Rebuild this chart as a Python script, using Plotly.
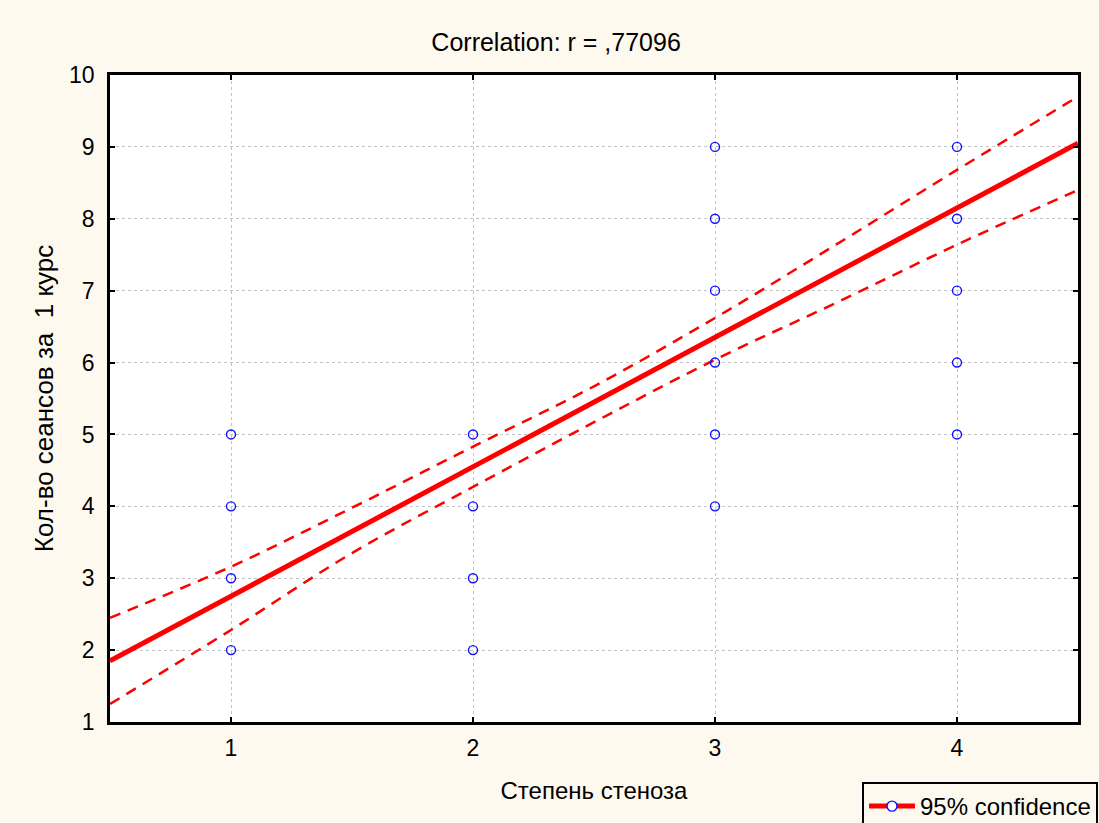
import plotly.graph_objects as go

# Observations: stenosis grade vs number of sessions
stenosis = [1, 1, 1, 1, 2, 2, 2, 2, 3, 3, 3, 3, 3, 3, 4, 4, 4, 4, 4]
sessions = [2, 3, 4, 5, 2, 3, 4, 5, 4, 5, 6, 7, 8, 9, 5, 6, 7, 8, 9]

# Fitted regression line across the x range
fit_x = [0.5, 4.5]
fit_y = [1.85, 9.05]

# 95% confidence band
band_x = [0.5, 1.0, 1.5, 2.0, 2.5, 3.0, 3.5, 4.0, 4.5]
band_upper = [2.45, 3.16, 3.98, 4.83, 5.67, 6.62, 7.64, 8.68, 9.70]
band_lower = [1.25, 2.28, 3.35, 4.27, 5.17, 6.04, 6.83, 7.64, 8.40]

x_ticks = [1, 2, 3, 4]
y_ticks = [1, 2, 3, 4, 5, 6, 7, 8, 9, 10]

RED = "#FF0000"
BLUE = "#1010FF"
FONT = "Liberation Sans, Arial, sans-serif"

fig = go.Figure()

for band in (band_upper, band_lower):
    fig.add_trace(go.Scatter(
        x=band_x, y=band, mode="lines", showlegend=False, hoverinfo="skip",
        line=dict(color=RED, width=2.5, dash="11px,8px", shape="spline"),
    ))

fig.add_trace(go.Scatter(
    x=fit_x, y=fit_y, mode="lines", showlegend=False,
    line=dict(color=RED, width=5),
))

fig.add_trace(go.Scatter(
    x=stenosis, y=sessions, mode="markers", showlegend=False,
    marker=dict(symbol="circle-open", size=9, color=BLUE, line=dict(width=1.4, color=BLUE)),
))

# Legend entry: fit line with point marker
fig.add_trace(go.Scatter(
    x=[None], y=[None], mode="lines+markers", name="95% confidence",
    line=dict(color=RED, width=5),
    marker=dict(symbol="circle", size=10, color="white", line=dict(width=1.4, color=BLUE)),
))

axis_common = dict(
    showline=True, linecolor="black", linewidth=2.5, mirror="ticks",
    ticks="inside", ticklen=5, tickwidth=2, tickcolor="black",
    showgrid=True, gridcolor="#C4C4C4", gridwidth=1, griddash="3px,3px",
    zeroline=False,
    tickfont=dict(family=FONT, size=23, color="black"),
)

fig.update_xaxes(
    range=[0.5, 4.5], tickvals=x_ticks, ticktext=[str(v) for v in x_ticks],
    title=dict(text="Степень стеноза", font=dict(family=FONT, size=24, color="black"), standoff=22),
    ticklabelstandoff=4,
    **axis_common,
)
fig.update_yaxes(
    range=[1, 10], tickvals=y_ticks, ticktext=[str(v) for v in y_ticks],
    title=dict(text="Кол-во сеансов за  1 курс", font=dict(family=FONT, size=26, color="black"), standoff=8),
    ticklabelstandoff=8,
    **axis_common,
)

fig.update_layout(
    width=1099, height=823,
    paper_bgcolor="#FEF9EF", plot_bgcolor="white",
    margin=dict(l=110, r=21, t=75, b=101, autoexpand=False),
    title=dict(
        text="Correlation: r = ,77096", x=0.506, xanchor="center",
        y=1 - 42 / 823, yanchor="middle",
        font=dict(family=FONT, size=25, color="black"),
    ),
    showlegend=True,
    legend=dict(
        x=1.0 + 20 / 968, xanchor="right", y=-60 / 647, yanchor="top",
        bgcolor="#FEF9EF", bordercolor="black", borderwidth=2,
        font=dict(family=FONT, size=24, color="black"),
        itemwidth=46,
    ),
)

fig.write_html("out.html")
